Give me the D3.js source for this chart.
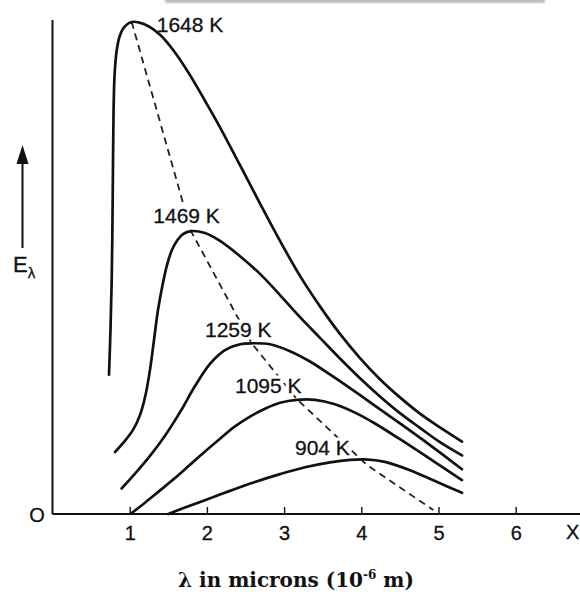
<!DOCTYPE html>
<html>
<head>
<meta charset="utf-8">
<script src="https://cdn.jsdelivr.net/npm/d3@7"></script>
<style>
  body { margin: 0; background: #fff; }
  svg { display: block; }
</style>
</head>
<body>
<div id="chart"></div>
<script>
// temperatures (labels) and the curves: [lambda (microns), E (arb. units)]
const temps = ["1648 K", "1469 K", "1259 K", "1095 K", "904 K"];

const curve1648 = [[0.732,28.3],[0.751,37.4],[0.767,47.6],[0.777,59.8],[0.784,72.0],[0.791,82.1],
  [0.804,89.2],[0.829,93.9],[0.868,97.0],[0.926,98.9],[1.026,100],[1.198,99.5],[1.393,97.4],
  [1.587,93.8],[1.781,89.2],[1.975,84.0],[2.170,78.6],[2.429,70.9],[2.688,63.1],[2.947,55.5],
  [3.206,48.4],[3.465,42.2],[3.724,36.6],[3.983,31.7],[4.242,27.4],[4.501,23.7],[4.760,20.4],
  [5.019,17.6],[5.304,14.7]];
const curve1469 = [[0.810,12.6],[0.913,14.4],[1.043,17.1],[1.133,20.1],[1.205,24.2],[1.263,29.3],
  [1.315,35.4],[1.367,41.5],[1.425,46.5],[1.483,50.6],[1.548,53.7],[1.619,55.7],[1.690,56.9],
  [1.794,57.5],[1.975,57.1],[2.170,55.5],[2.429,52.4],[2.688,48.8],[2.947,44.5],[3.206,40.0],
  [3.465,35.8],[3.724,31.6],[3.983,27.6],[4.242,23.9],[4.501,20.5],[4.760,17.5],[5.019,14.6],
  [5.304,11.9]];
const curve1259 = [[0.896,5.2],[1.069,8.2],[1.263,11.8],[1.457,15.9],[1.652,20.7],[1.846,26.0],
  [2.040,30.5],[2.234,33.3],[2.429,34.5],[2.580,34.7],[2.817,34.5],[3.076,33.1],[3.335,31.0],
  [3.637,27.9],[4.070,23.2],[4.501,18.4],[4.890,14.0],[5.304,9.1]];
const curve1095 = [[1.026,0.2],[1.198,2.3],[1.393,4.8],[1.587,7.3],[1.781,10.0],[1.975,12.7],
  [2.170,15.3],[2.364,17.8],[2.558,19.8],[2.753,21.4],[2.947,22.6],[3.167,23.2],[3.400,23.2],
  [3.659,22.3],[3.918,20.6],[4.177,18.4],[4.501,15.2],[4.890,11.2],[5.304,6.9]];
const curve904 = [[1.500,0],[1.716,1.3],[1.975,2.8],[2.299,4.7],[2.623,6.5],[2.947,8.1],[3.271,9.5],
  [3.595,10.5],[3.854,11.0],[4.048,11.1],[4.307,10.6],[4.631,8.9],[4.955,6.7],[5.304,4.3]];

// dashed line through the maxima
const peakLocus = [[1.026,100],[1.794,57.5],[2.580,34.7],[3.167,23.3],[4.070,10.0],[4.933,0.8]];

// where each temperature label starts (left edge, baseline)
const labelPos = [[1.350,98.0],[1.306,59.1],[1.975,36.0],[2.364,24.6],[3.141,12.0]];

const xTicks = [1, 2, 3, 4, 5, 6];

const curves = [curve1648, curve1469, curve1259, curve1095, curve904];

function PlanckChart(container) {
    const width = 580, height = 592;
    const sans = '"Liberation Sans", Arial, Helvetica, sans-serif';

    const svg = d3.select(container)
        .append('svg')
        .attr('width', width)
        .attr('height', height);

    const xScale = d3.scaleLinear()
        .domain([0, 7])
        .range([52.5, 52.5 + 77.2 * 7]);

    const yScale = d3.scaleLinear()
        .domain([0, 100])
        .range([514, 22]);

    // scan smudge along the top edge
    const defs = svg.append('defs');
    defs.append('filter').attr('id', 'blur')
        .append('feGaussianBlur').attr('stdDeviation', 1.3);
    svg.append('rect')
        .attr('x', 165).attr('y', -3)
        .attr('width', 380).attr('height', 6)
        .attr('fill', '#bdbdbd')
        .attr('filter', 'url(#blur)');

    // axes
    svg.append('line')
        .attr('x1', xScale(0)).attr('x2', xScale(0))
        .attr('y1', yScale(0)).attr('y2', 20)
        .attr('stroke', '#111').attr('stroke-width', 2);

    svg.append('line')
        .attr('x1', xScale(0)).attr('x2', width)
        .attr('y1', yScale(0)).attr('y2', yScale(0))
        .attr('stroke', '#111').attr('stroke-width', 2);

    const xAxis = d3.axisBottom(xScale)
        .tickValues(xTicks)
        .tickSize(-7)
        .tickPadding(12)
        .tickFormat(d3.format('d'));

    svg.append('g')
        .attr('class', 'x-axis')
        .attr('transform', `translate(0,${yScale(0)})`)
        .call(xAxis)
        .call(g => g.select('.domain').remove())
        .call(g => g.selectAll('line').attr('stroke', '#111').attr('stroke-width', 1.4))
        .call(g => g.selectAll('text')
            .attr('fill', '#111')
            .attr('stroke', '#111').attr('stroke-width', 0.3)
            .style('font-family', sans)
            .style('font-size', '20px'));

    svg.append('text')
        .attr('x', 37).attr('y', yScale(0) + 8)
        .attr('text-anchor', 'middle')
        .style('font-family', sans).style('font-size', '20px')
        .attr('fill', '#111').attr('stroke', '#111').attr('stroke-width', 0.3)
        .text('O');

    svg.append('text')
        .attr('x', 566).attr('y', 539)
        .style('font-family', sans).style('font-size', '20px')
        .attr('fill', '#111').attr('stroke', '#111').attr('stroke-width', 0.3)
        .text('X');

    // y arrow + E_lambda
    svg.append('line')
        .attr('x1', 22.5).attr('x2', 22.5)
        .attr('y1', 248).attr('y2', 160)
        .attr('stroke', '#111').attr('stroke-width', 2);
    svg.append('path')
        .attr('d', 'M22.5,145 L16.5,164 L28.5,164 Z')
        .attr('fill', '#111');

    const eLabel = svg.append('text')
        .attr('x', 13).attr('y', 272)
        .style('font-family', sans).style('font-size', '22px')
        .attr('fill', '#111').attr('stroke', '#111').attr('stroke-width', 0.3);
    eLabel.append('tspan').text('E');
    eLabel.append('tspan').attr('dy', 6).style('font-size', '15px').text('λ');

    // dashed locus of maxima
    const line = d3.line()
        .x(d => xScale(d[0]))
        .y(d => yScale(d[1]));

    svg.append('path')
        .datum(peakLocus)
        .attr('d', line)
        .attr('fill', 'none')
        .attr('stroke', '#222')
        .attr('stroke-width', 1.8)
        .attr('stroke-dasharray', '7,5');

    // white halos so the dashes stop at the labels
    svg.append('g').selectAll('text')
        .data(temps)
        .join('text')
        .attr('x', (d, i) => xScale(labelPos[i][0]))
        .attr('y', (d, i) => yScale(labelPos[i][1]))
        .style('font-family', sans).style('font-size', '21px')
        .attr('fill', '#fff')
        .attr('stroke', '#fff')
        .attr('stroke-width', 7)
        .attr('stroke-linejoin', 'round')
        .text(d => d);

    const curveLine = d3.line()
        .x(d => xScale(d[0]))
        .y(d => yScale(d[1]))
        .curve(d3.curveCatmullRom.alpha(0.5));

    svg.append('g').selectAll('path')
        .data(curves)
        .join('path')
        .attr('d', curveLine)
        .attr('fill', 'none')
        .attr('stroke', '#111')
        .attr('stroke-width', 2.7)
        .attr('stroke-linecap', 'round');

    svg.append('g').selectAll('text')
        .data(temps)
        .join('text')
        .attr('x', (d, i) => xScale(labelPos[i][0]))
        .attr('y', (d, i) => yScale(labelPos[i][1]))
        .style('font-family', sans).style('font-size', '21px')
        .attr('fill', '#111')
        .attr('stroke', '#111').attr('stroke-width', 0.3)
        .text(d => d);

    // caption
    const cap = svg.append('text')
        .attr('x', 296).attr('y', 587)
        .attr('text-anchor', 'middle')
        .style('font-family', '"DejaVu Serif", "Liberation Serif", serif')
        .style('font-weight', 'bold')
        .style('font-size', '20px')
        .attr('fill', '#111');
    cap.append('tspan').text('λ in microns (10');
    cap.append('tspan').attr('dy', -8).style('font-size', '12px').text('-6');
    cap.append('tspan').attr('dy', 8).text(' m)');
}

PlanckChart('#chart');
</script>
</body>
</html>
